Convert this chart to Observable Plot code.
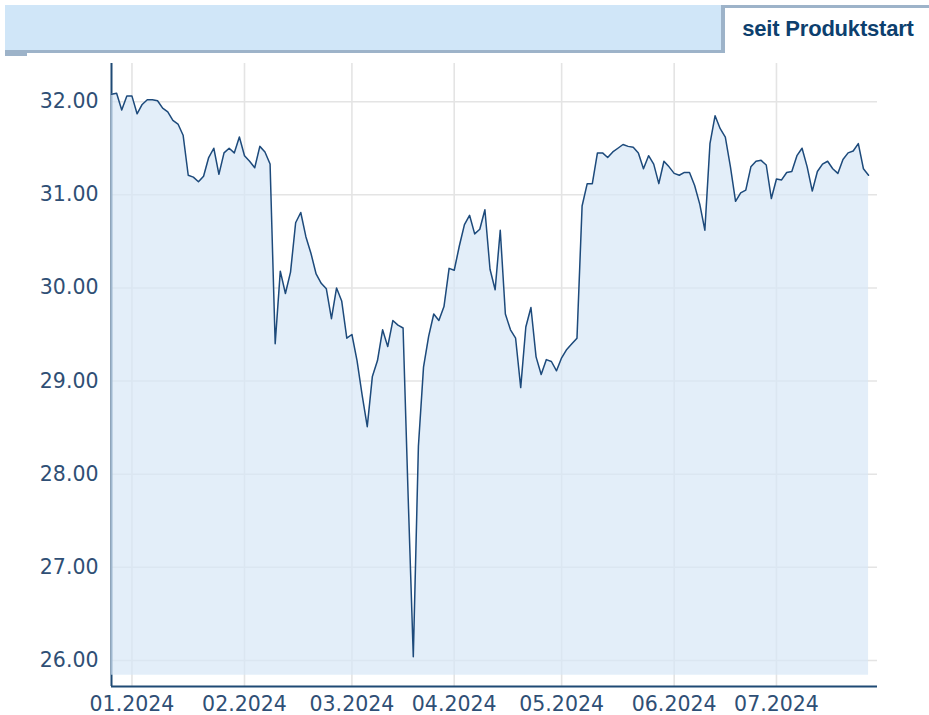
<!DOCTYPE html>
<html>
<head>
<meta charset="utf-8">
<script src="https://cdn.jsdelivr.net/npm/d3@7"></script>
<script src="https://cdn.jsdelivr.net/npm/@observablehq/plot@0.6"></script>
<style>
  html, body { margin: 0; padding: 0; background: #fff; }
  body { width: 929px; height: 715px; overflow: hidden; position: relative; }
  #chart { position: absolute; left: 0; top: 0; }
  .hdr { position: absolute; box-sizing: border-box; z-index: 2; }
  #bar { left: 5px; top: 5px; width: 716px; height: 48px; background: #d0e6f8; border-bottom: 3px solid #9db3c9; }
  #lip { left: 5px; top: 52px; width: 22px; height: 4px; background: #9db3c9; }
  #tab { left: 721px; top: 5px; width: 208px; height: 48px; background: #fff;
         border-top: 3px solid #9db3c9; border-left: 4px solid #9db3c9;
         font-family: "Liberation Sans", Arial, sans-serif; font-weight: bold; font-size: 22px;
         letter-spacing: -0.2px;
         color: #0d3f6e; display: flex; align-items: center; justify-content: center; padding: 0 0 4px 2px; }
</style>
</head>
<body>
<div id="chart"></div>
<div class="hdr" id="bar"></div>
<div class="hdr" id="lip"></div>
<div class="hdr" id="tab">seit Produktstart</div>
<script>
// Daily prices (trading-day index 0 = late Dec 2023 … index 148 = late Jul 2024)
const values = [
  32.08, 32.09, 31.91, 32.06, 32.06, 31.87, 31.97, 32.02, 32.02, 32.01,
  31.93, 31.89, 31.80, 31.76, 31.64, 31.21, 31.19, 31.14, 31.20, 31.40,
  31.50, 31.22, 31.45, 31.50, 31.45, 31.62, 31.42, 31.36, 31.29, 31.52,
  31.46, 31.33, 29.40, 30.18, 29.94, 30.17, 30.70, 30.81, 30.55, 30.37,
  30.15, 30.05, 29.99, 29.67, 30.00, 29.86, 29.46, 29.50, 29.22, 28.85,
  28.51, 29.05, 29.22, 29.55, 29.37, 29.65, 29.60, 29.57, 27.75, 26.04,
  28.30, 29.15, 29.48, 29.72, 29.65, 29.80, 30.21, 30.19, 30.45, 30.68,
  30.78, 30.58, 30.63, 30.84, 30.20, 29.98, 30.62, 29.72, 29.55, 29.46,
  28.93, 29.58, 29.79, 29.26, 29.07, 29.23, 29.21, 29.11, 29.25, 29.34,
  29.40, 29.46, 30.88, 31.12, 31.12, 31.45, 31.45, 31.40, 31.46, 31.50,
  31.54, 31.52, 31.51, 31.45, 31.28, 31.42, 31.33, 31.12, 31.36, 31.30,
  31.23, 31.21, 31.24, 31.24, 31.10, 30.90, 30.62, 31.55, 31.85, 31.71,
  31.62, 31.30, 30.93, 31.02, 31.05, 31.30, 31.36, 31.37, 31.32, 30.96,
  31.17, 31.16, 31.24, 31.25, 31.42, 31.50, 31.30, 31.04, 31.25, 31.33,
  31.36, 31.28, 31.23, 31.38, 31.45, 31.47, 31.55, 31.28, 31.21
];
// trading-day index of each month start, and its label
const monthTickIndex = [4, 26, 47, 67, 88, 110, 130];
const monthTickLabels = ["01.2024", "02.2024", "03.2024", "04.2024", "05.2024", "06.2024", "07.2024"];
const yTicks = [26, 27, 28, 29, 30, 31, 32];
const yDomain = [25.72, 32.41];
const xDomain = [0, 149.75];
const areaBase = 25.84;

const data = values.map((v, i) => ({ i, v }));

const chart = Plot.plot({
  width: 929,
  height: 715,
  marginLeft: 111,
  marginRight: 52,
  marginTop: 63,
  marginBottom: 29,
  style: { fontFamily: "'DejaVu Sans', sans-serif", fontSize: "20.5px", color: "#2f4f75", background: "transparent", overflow: "visible" },
  x: {
    domain: xDomain,
    ticks: monthTickIndex,
    tickFormat: d => monthTickLabels[monthTickIndex.indexOf(d)],
    tickSize: 0,
    tickPadding: 10,
    label: null
  },
  y: {
    domain: yDomain,
    ticks: yTicks,
    tickFormat: d3.format(".2f"),
    tickSize: 0,
    tickPadding: 13,
    label: null
  },
  marks: [
    Plot.ruleX(monthTickIndex, { stroke: "#e4e4e4", strokeWidth: 1.6 }),
    Plot.ruleY(yTicks, { stroke: "#e4e4e4", strokeWidth: 1.6 }),
    Plot.ruleX([xDomain[0]], { stroke: "#1f4a75", strokeWidth: 2 }),
    Plot.ruleY([yDomain[0]], { stroke: "#1f4a75", strokeWidth: 2.2 }),
    Plot.areaY(data, { x: "i", y1: areaBase, y2: "v", fill: "#d7e7f6", fillOpacity: 0.7 }),
    Plot.lineY(data, { x: "i", y: "v", stroke: "#1d4a7b", strokeWidth: 1.5 })
  ]
});
document.getElementById("chart").appendChild(chart);
</script>
</body>
</html>
